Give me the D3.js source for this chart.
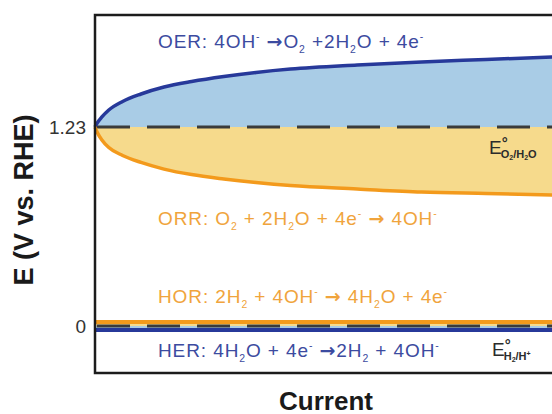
<!DOCTYPE html>
<html>
<head>
<meta charset="utf-8">
<script src="https://cdn.jsdelivr.net/npm/d3@7/dist/d3.min.js"></script>
<style>
  html, body { margin: 0; padding: 0; background: #fff; }
  svg { display: block; font-family: "Liberation Sans", Arial, sans-serif; }
</style>
</head>
<body>
<svg id="chart" width="552" height="414"></svg>
<script>
// Data (current in arbitrary units, potential in V vs. RHE)
var current = [0, 0.5, 1.5, 3, 6, 10, 15, 21, 28, 35, 42.5, 57, 71, 85, 100];
var oerE    = [1.23, 1.255, 1.292, 1.335, 1.388, 1.434, 1.477, 1.511, 1.542, 1.567, 1.588, 1.613, 1.632, 1.647, 1.663];
var orrE    = [1.23, 1.196, 1.150, 1.103, 1.054, 1.011, 0.970, 0.936, 0.909, 0.887, 0.868, 0.847, 0.828, 0.819, 0.810];
var hydCurrent = [0, 100];
var horE = [0.025, 0.025];
var herE = [-0.025, -0.025];
var eqPotentials = [1.23, 0];
var tickLabels = ["1.23", "0"];

var svg = d3.select("#chart");

// Dimensions
var plotLeft = 95, plotTop = 15, plotBottom = 373, plotRight = 565;

var x = d3.scaleLinear().domain([0, 100]).range([plotLeft, 555]);
var y = d3.scaleLinear().domain([-0.29, 1.922]).range([plotBottom, plotTop]);

var blue = "#27399a";
var blueFill = "#a9cce6";
var orange = "#f39a1c";
var yellowFill = "#f6da8c";
var blueText = "#3c4ba0";
var orangeText = "#f0a43c";

var oer = current.map(function(c, i) { return { c: c, e: oerE[i] }; });
var orr = current.map(function(c, i) { return { c: c, e: orrE[i] }; });
var hor = hydCurrent.map(function(c, i) { return { c: c, e: horE[i] }; });
var her = hydCurrent.map(function(c, i) { return { c: c, e: herE[i] }; });

var curve = d3.curveMonotoneX;

function area(base) {
    return d3.area()
        .x(function(d) { return x(d.c); })
        .y0(y(base))
        .y1(function(d) { return y(d.e); })
        .curve(curve);
}
var line = d3.line()
    .x(function(d) { return x(d.c); })
    .y(function(d) { return y(d.e); })
    .curve(curve);

// fills
svg.append("path").attr("d", area(1.23)(oer)).attr("fill", blueFill);
svg.append("path").attr("d", area(1.23)(orr)).attr("fill", yellowFill);
svg.append("path").attr("d", area(0)(hor)).attr("fill", yellowFill);
svg.append("path").attr("d", area(0)(her)).attr("fill", blueFill);

// equilibrium potentials (dashed)
svg.selectAll(".eq")
    .data(eqPotentials)
    .enter().append("line")
    .attr("class", "eq")
    .attr("x1", plotLeft).attr("x2", plotRight)
    .attr("y1", function(d) { return y(d); })
    .attr("y2", function(d) { return y(d); })
    .attr("stroke", "#3b3b3b")
    .attr("stroke-width", 3)
    .attr("stroke-dasharray", "33,17")
    .attr("stroke-dashoffset", -2);

// curves
svg.append("path").attr("d", line(oer)).attr("fill", "none").attr("stroke", blue).attr("stroke-width", 3.5);
svg.append("path").attr("d", line(orr)).attr("fill", "none").attr("stroke", orange).attr("stroke-width", 3.5);
svg.append("path").attr("d", line(hor)).attr("fill", "none").attr("stroke", orange).attr("stroke-width", 4);
svg.append("path").attr("d", line(her)).attr("fill", "none").attr("stroke", blue).attr("stroke-width", 4);

// frame
svg.append("rect")
    .attr("x", plotLeft).attr("y", plotTop)
    .attr("width", plotRight - plotLeft).attr("height", plotBottom - plotTop)
    .attr("fill", "none")
    .attr("stroke", "#1c1c1c")
    .attr("stroke-width", 2.5);

// y axis
var yAxis = d3.axisLeft(y)
    .tickValues(eqPotentials)
    .tickFormat(function(d, i) { return tickLabels[i]; })
    .tickSize(0)
    .tickPadding(9);
var ga = svg.append("g").attr("transform", "translate(" + plotLeft + ",0)").call(yAxis);
ga.select(".domain").remove();
ga.selectAll("text")
    .attr("font-family", "Liberation Sans, Arial, sans-serif")
    .attr("font-size", 19)
    .attr("fill", "#333");

// axis titles
svg.append("text")
    .attr("transform", "translate(33,200) rotate(-90)")
    .attr("text-anchor", "middle")
    .attr("font-size", 27)
    .attr("font-weight", "bold")
    .attr("fill", "#1a1a1a")
    .text("E (V vs. RHE)");

svg.append("text")
    .attr("x", 326).attr("y", 410)
    .attr("text-anchor", "middle")
    .attr("font-size", 26)
    .attr("font-weight", "bold")
    .attr("fill", "#1a1a1a")
    .text("Current");

// rich text helper: segments of [text, kind]
function rich(xp, yp, size, color, segs) {
    var t = svg.append("text")
        .attr("x", xp).attr("y", yp)
        .attr("font-size", size)
        .attr("letter-spacing", 0.9)
        .attr("fill", color);
    var shift = 0;
    segs.forEach(function(s) {
        var kind = s[1] || "n";
        var target = kind === "sub" ? size * 0.25 : kind === "sup" ? -size * 0.4 : 0;
        var ts = t.append("tspan")
            .attr("dy", target - shift)
            .attr("font-size", kind === "n" || kind === "arr" ? size : size * 0.55)
            .text(s[0]);
        if (kind === "arr") {
            ts.attr("font-family", "DejaVu Sans").attr("font-weight", "bold");
        }
        shift = target;
    });
    return t;
}

var ARR = "\u2192";
rich(158, 48, 19, blueText, [["OER: 4OH"], ["-", "sup"], [" "], [ARR, "arr"], ["O"], ["2", "sub"], [" +2H"], ["2", "sub"], ["O + 4e"], ["-", "sup"]]);
rich(158, 225, 19, orangeText, [["ORR: O"], ["2", "sub"], [" + 2H"], ["2", "sub"], ["O + 4e"], ["-", "sup"], [" "], [ARR, "arr"], [" 4OH"], ["-", "sup"]]);
rich(158, 303, 19, orangeText, [["HOR: 2H"], ["2", "sub"], [" + 4OH"], ["-", "sup"], [" "], [ARR, "arr"], [" 4H"], ["2", "sub"], ["O + 4e"], ["-", "sup"]]);
rich(158, 357, 19, blueText, [["HER: 4H"], ["2", "sub"], ["O + 4e"], ["-", "sup"], [" "], [ARR, "arr"], ["2H"], ["2", "sub"], [" + 4OH"], ["-", "sup"]]);

// equilibrium labels (one text each)
function eLabel(xp, yp, sub) {
    var t = svg.append("text").attr("x", xp).attr("y", yp).attr("fill", "#2b2b2b").attr("font-size", 19);
    t.append("tspan").text("E");
    t.append("tspan").attr("font-size", 15).attr("font-weight", "bold").attr("dy", -6).text("\u00b0");
    var first = true;
    sub.forEach(function(p) {
        var ts = t.append("tspan")
            .attr("font-size", p[1] ? 7 : 11)
            .attr("font-weight", "bold")
            .attr("dy", first ? 10 : (p[1] === 1 ? 2 : p[1] === 2 ? -4 : (p[2] || 0)))
            .text(p[0]);
        if (first) ts.attr("dx", -7);
        first = false;
    });
}
eLabel(489, 154, [["O"], ["2", 1], ["/H", 0, -2], ["2", 1], ["O", 0, -2]]);
eLabel(492, 356, [["H"], ["2", 1], ["/H", 0, -2], ["+", 2]]);
</script>
</body>
</html>
